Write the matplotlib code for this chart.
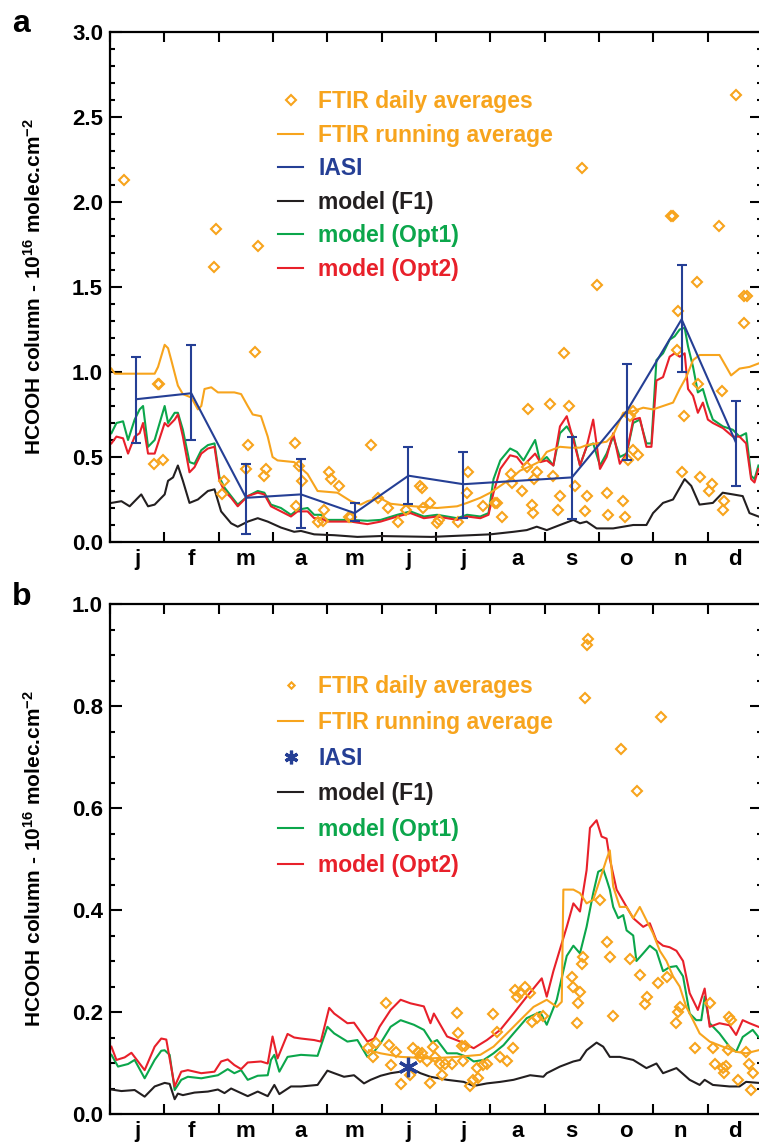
import numpy as np
import matplotlib.pyplot as plt
from matplotlib.ticker import MultipleLocator, FormatStrFormatter

plt.rcParams['font.family'] = 'Liberation Sans'
plt.rcParams['font.weight'] = 'bold'
plt.rcParams['mathtext.fontset'] = 'custom'
plt.rcParams['mathtext.rm'] = 'Liberation Sans:bold'
plt.rcParams['mathtext.bf'] = 'Liberation Sans:bold'
plt.rcParams['mathtext.default'] = 'bf'

ORANGE = '#F7A41D'
BLUE = '#253F95'
GREEN = '#0BA64B'
RED = '#E8202A'
BLACK = '#231F20'

months = ['j', 'f', 'm', 'a', 'm', 'j', 'j', 'a', 's', 'o', 'n', 'd']

# ---------------- panel a (day of year, 1e16 molec/cm2) ----------------
a_f1_day = [0.8, 6.4, 11, 17.5, 21.3, 25, 30.6, 32.5, 35.3, 38, 40.8, 44.5, 49.2, 54.8, 58.5,
            62.2, 67.8, 71.5, 77.1, 82.7, 88.3, 95.7, 103.1, 106.9, 114.3, 125.5, 138.5, 151.5,
            180, 212.9, 225.9, 233.3, 238.9, 244.5, 251.9, 259.4, 263.1, 266.8, 272.4, 281.7,
            292.9, 300.3, 304, 309.6, 315.2, 321.7, 325.4, 330, 337.5, 343, 348.7, 354.2, 358, 363]
a_f1 = [0.23, 0.24, 0.21, 0.28, 0.21, 0.22, 0.28, 0.36, 0.38, 0.45, 0.36, 0.23, 0.25, 0.30, 0.31,
        0.18, 0.11, 0.09, 0.12, 0.14, 0.12, 0.085, 0.06, 0.065, 0.045, 0.04, 0.03, 0.035,
        0.03, 0.045, 0.06, 0.07, 0.09, 0.07, 0.10, 0.13, 0.11, 0.12, 0.08, 0.08,
        0.10, 0.10, 0.17, 0.23, 0.25, 0.37, 0.33, 0.22, 0.23, 0.29, 0.28, 0.27, 0.17, 0.15]

a_opt_day = [0.8, 3.6, 7.3, 10.1, 13.8, 16.6, 18.5, 21.3, 25, 30.6, 32.5, 36.2, 38, 40.8, 44.5,
             47.3, 51.1, 54.8, 58.5, 61.3, 64.1, 67.8, 71.5, 77.1, 82.7, 86.4, 90.1, 95.7, 101.3,
             105, 110.6, 114.3, 118, 121.7, 134.8, 144.1, 151.5, 160.8, 168.2, 175.7, 183.1,
             194.3, 199.9, 207.3, 211.9, 214.7, 218.5, 224, 227.8, 231.5, 238, 240.8, 244.5,
             248.2, 251.9, 255.7, 259.4, 263.1, 266.8, 270.5, 274.3, 278, 281.7, 285.4, 289.2,
             292.9, 296.6, 300.3, 303.1, 305.9, 309.6, 313.3, 316.1, 318.9, 321.7, 323.6, 326.4,
             329.1, 331.9, 334.7, 337.5, 343.1, 348.7, 352.4, 356.1, 358.9, 360.8, 363]
a_opt1 = [0.64, 0.70, 0.71, 0.60, 0.72, 0.78, 0.80, 0.56, 0.60, 0.80, 0.70, 0.76, 0.76, 0.66, 0.47,
          0.46, 0.54, 0.57, 0.58, 0.38, 0.32, 0.27, 0.22, 0.27, 0.30, 0.29, 0.22, 0.20, 0.16,
          0.19, 0.20, 0.16, 0.16, 0.13, 0.13, 0.125, 0.13, 0.16, 0.18, 0.15, 0.16,
          0.14, 0.16, 0.15, 0.17, 0.37, 0.48, 0.55, 0.53, 0.48, 0.60, 0.47, 0.50,
          0.45, 0.64, 0.68, 0.62, 0.45, 0.56, 0.58, 0.45, 0.52, 0.62, 0.50, 0.52,
          0.70, 0.72, 0.58, 0.58, 1.07, 1.11, 1.19, 1.21, 1.25, 1.26, 1.15, 1.03,
          0.88, 0.90, 0.80, 0.72, 0.68, 0.66, 0.62, 0.64, 0.39, 0.37, 0.45]
a_opt2 = [0.58, 0.62, 0.61, 0.52, 0.62, 0.64, 0.70, 0.52, 0.52, 0.70, 0.68, 0.72, 0.75, 0.62, 0.41,
          0.44, 0.52, 0.55, 0.56, 0.36, 0.30, 0.26, 0.21, 0.27, 0.29, 0.28, 0.21, 0.18, 0.15,
          0.18, 0.18, 0.14, 0.14, 0.12, 0.12, 0.105, 0.12, 0.15, 0.17, 0.14, 0.15,
          0.13, 0.15, 0.14, 0.16, 0.29, 0.43, 0.51, 0.50, 0.45, 0.52, 0.47, 0.48,
          0.45, 0.68, 0.74, 0.60, 0.45, 0.56, 0.72, 0.43, 0.50, 0.64, 0.46, 0.52,
          0.72, 0.73, 0.56, 0.56, 0.95, 0.97, 1.09, 1.11, 1.09, 1.11, 0.90, 0.86,
          0.76, 0.82, 0.72, 0.70, 0.67, 0.62, 0.62, 0.58, 0.37, 0.35, 0.43]

a_run_day = [0.8, 2.7, 25, 26.9, 30.6, 32.5, 34.3, 38, 40.8, 45.5, 49.2, 51.1, 52.9, 56.7, 60.4,
             69.6, 73.4, 77.1, 79.9, 84.5, 88.3, 91, 93.8, 103.1, 110.6, 116.2, 127.3, 134.8,
             140.4, 144.1, 150.9, 157.1, 170.1, 183.1, 194.3, 199.9, 207.3, 212.9, 218.5, 224,
             229.6, 235.2, 240.8, 244.5, 251.9, 257.5, 263.1, 266.8, 272.4, 278, 281.7, 287.3,
             292.9, 298.5, 304, 309.6, 315.2, 318.9, 322.6, 326.4, 330.1, 341.2, 345, 347.7,
             352.4, 358, 363]
a_run = [1.02, 0.99, 0.99, 1.03, 1.16, 1.14, 1.07, 0.92, 0.87, 0.85, 0.78, 0.80, 0.90, 0.91, 0.88,
         0.88, 0.87, 0.80, 0.75, 0.74, 0.62, 0.50, 0.48, 0.47, 0.40, 0.30, 0.29, 0.24,
         0.22, 0.24, 0.26, 0.225, 0.21, 0.20, 0.21, 0.23, 0.26, 0.29, 0.33, 0.37,
         0.42, 0.445, 0.475, 0.53, 0.56, 0.555, 0.555, 0.57, 0.58, 0.59, 0.63, 0.76,
         0.77, 0.79, 0.78, 0.80, 0.82, 0.90, 0.97, 1.07, 1.10, 1.10, 1.03, 0.98,
         1.02, 1.03, 1.05]

a_ftir_day = [7.6, 59.4, 58.3, 82.9, 350.2, 264.2, 315, 313.9, 341.2, 272.6, 328.4, 356.8, 355.1,
              317.8, 355.1, 317.3, 254.2, 342.4, 329, 321.2, 234.1, 246.4, 257, 292.7, 291, 292.7,
              295.5, 289.9, 239.1, 237.4, 248, 224.6, 225.2, 230.7, 233.5, 215.7, 216.8, 209,
              219.6, 236.3, 236.9, 250.8, 251.9, 260.3, 267, 265.9, 278.2, 278.7, 287.1, 288.2,
              320, 330.1, 336.8, 335.1, 344, 342.9, 200.6, 200.1, 195, 183.3, 183.9, 179.4,
              175.5, 173.3, 174.9, 165.5, 161, 155.4, 27.6, 27.1, 24.8, 29.9, 81.2, 77.3, 76.2,
              63.9, 62.8, 87.3, 86.2, 103.5, 105.7, 107.4, 104.1, 122.5, 123.6, 119.7, 116.4,
              119.1, 128, 133.6, 134.8, 145.9, 149.8]
a_ftir = [2.13, 1.84, 1.62, 1.74, 2.63, 2.20, 1.92, 1.92, 1.86, 1.51, 1.53, 1.45, 1.45,
          1.36, 1.29, 1.13, 1.11, 0.89, 0.93, 0.74, 0.78, 0.81, 0.80, 0.77, 0.74, 0.54,
          0.51, 0.48, 0.41, 0.37, 0.39, 0.40, 0.35, 0.30, 0.44, 0.23, 0.23, 0.21,
          0.15, 0.22, 0.17, 0.19, 0.27, 0.33, 0.27, 0.18, 0.29, 0.16, 0.24, 0.15,
          0.41, 0.38, 0.34, 0.30, 0.24, 0.19, 0.41, 0.29, 0.12, 0.11, 0.13, 0.23,
          0.20, 0.33, 0.32, 0.19, 0.12, 0.20, 0.93, 0.93, 0.46, 0.48, 1.12, 0.57, 0.43,
          0.36, 0.28, 0.43, 0.39, 0.58, 0.45, 0.36, 0.21, 0.41, 0.37, 0.19, 0.12,
          0.125, 0.33, 0.15, 0.15, 0.57, 0.26]

iasi_day = [14.8, 45.5, 76.2, 106.9, 137, 167.1, 197.8, 258.6, 289.3, 320, 350.2]
iasi_val = [0.84, 0.875, 0.26, 0.28, 0.17, 0.39, 0.34, 0.38, 0.77, 1.31, 0.59]
iasi_lo = [0.58, 0.60, 0.05, 0.085, 0.125, 0.225, 0.14, 0.135, 0.48, 1.00, 0.33]
iasi_hi = [1.09, 1.16, 0.46, 0.49, 0.23, 0.56, 0.53, 0.62, 1.05, 1.63, 0.83]

# ---------------- panel b ----------------
b_f1_day = [0.8, 6.4, 13.8, 19.4, 25, 30.6, 33.4, 36.2, 38, 40.8, 47.3, 54.8, 60.4, 64.1, 67.8,
            71.5, 77.1, 82.7, 88.3, 92, 94.8, 101.3, 106.9, 116.2, 121.7, 125.5, 131, 136.6,
            142.2, 145.9, 151.5, 157.1, 162.7, 168.2, 173.8, 179.4, 188.7, 198, 203.6, 211,
            218.5, 225.9, 235.2, 242.6, 244.5, 251.9, 259.4, 263.1, 266.8, 272.4, 276.1, 279.8,
            285.4, 292.9, 300.3, 305.9, 309.6, 317.1, 324.5, 330.1, 332.9, 337.5, 346.8, 352.4,
            356.1, 363]
b_f1 = [0.048, 0.045, 0.047, 0.034, 0.054, 0.061, 0.059, 0.029, 0.040, 0.037, 0.042, 0.044, 0.048,
        0.041, 0.050, 0.044, 0.035, 0.044, 0.035, 0.057, 0.039, 0.054, 0.054, 0.057, 0.085, 0.080,
        0.073, 0.076, 0.060, 0.067, 0.075, 0.08, 0.083, 0.09, 0.08, 0.073, 0.067, 0.063, 0.055,
        0.060, 0.063, 0.067, 0.076, 0.073, 0.08, 0.093, 0.103, 0.106, 0.125, 0.14, 0.132, 0.112,
        0.112, 0.106, 0.09, 0.099, 0.08, 0.09, 0.067, 0.057, 0.067, 0.057, 0.054, 0.054,
        0.063, 0.061]

b_opt1_day = [0.8, 4.5, 10.1, 13.8, 19.4, 25, 28.7, 30.6, 33.4, 36.2, 39.9, 43.6, 51.1, 60.4,
              65.9, 69.6, 73.4, 77.1, 82.7, 88.3, 90.1, 92, 94.8, 99.4, 106.9, 116.2, 121.7,
              125.5, 132.9, 138.5, 144.1, 147.8, 151.5, 157.1, 162.7, 170.1, 175.7, 180.3, 183.1,
              188.7, 194.3, 199.9, 203.6, 209.2, 214.7, 220.3, 225.9, 233.3, 240.8, 244.5, 250.1,
              255.7, 259.4, 263.1, 266.8, 270.5, 273.3, 276.1, 278, 279.8, 281.7, 284.5, 287.3,
              289.2, 292.9, 294.7, 298.5, 302.2, 305.9, 309.6, 313.3, 317.1, 320.8, 324.5, 328.2,
              331, 332.9, 335.7, 341.2, 346.8, 350.5, 354.2, 359.8, 363]
b_opt1 = [0.116, 0.093, 0.098, 0.106, 0.070, 0.106, 0.124, 0.125, 0.116, 0.047, 0.067, 0.073,
          0.070, 0.076, 0.088, 0.080, 0.086, 0.067, 0.075, 0.076, 0.106, 0.116, 0.083, 0.112,
          0.116, 0.114, 0.171, 0.158, 0.142, 0.145, 0.112, 0.122, 0.139, 0.171, 0.184, 0.175,
          0.165, 0.14, 0.145, 0.119, 0.119, 0.112, 0.103, 0.106, 0.119, 0.135, 0.158, 0.188,
          0.20, 0.175, 0.224, 0.31, 0.33, 0.315, 0.367, 0.433, 0.475, 0.48, 0.46, 0.44, 0.406,
          0.384, 0.39, 0.36, 0.35, 0.30, 0.315, 0.33, 0.32, 0.28, 0.288, 0.29, 0.27, 0.197,
          0.184, 0.184, 0.23, 0.178, 0.158, 0.132, 0.122, 0.151, 0.165, 0.151]

b_opt2_day = [0.8, 3.6, 8.2, 12, 19.4, 25, 28.7, 31.5, 36.2, 39.9, 43.6, 51.1, 58.5, 62.2, 65.9,
              69.6, 73.4, 77.1, 84.5, 88.3, 91, 93.8, 99.4, 103.1, 106.9, 114.3, 118, 122.7,
              125.5, 132.9, 136.6, 144.1, 147.8, 150.9, 157.1, 162.7, 168.2, 175.7, 179.4, 181.3,
              188.7, 196.1, 203.6, 211, 218.5, 225.9, 233.3, 241.7, 244.5, 248.2, 255.7, 259.4,
              263.1, 266.8, 268.7, 272.4, 275.2, 278, 279.8, 283.6, 289.2, 292.9, 298.5, 302.2,
              305.9, 309.6, 313.3, 317.1, 320.8, 324.5, 329.1, 332.9, 335.7, 341.2, 346.8, 350.5,
              354.2, 358, 363]
b_opt2 = [0.132, 0.106, 0.111, 0.120, 0.086, 0.132, 0.148, 0.146, 0.054, 0.083, 0.086, 0.080,
          0.083, 0.103, 0.107, 0.096, 0.088, 0.101, 0.103, 0.099, 0.152, 0.109, 0.157, 0.150,
          0.148, 0.145, 0.142, 0.208, 0.197, 0.178, 0.179, 0.142, 0.148, 0.171, 0.204, 0.224,
          0.217, 0.211, 0.178, 0.197, 0.152, 0.142, 0.129, 0.145, 0.165, 0.197, 0.23, 0.266,
          0.23, 0.28, 0.367, 0.413, 0.397, 0.478, 0.561, 0.576, 0.544, 0.54, 0.50, 0.44,
          0.406, 0.384, 0.367, 0.374, 0.34, 0.33, 0.327, 0.32, 0.30, 0.237, 0.204, 0.246,
          0.171, 0.178, 0.174, 0.155, 0.184, 0.178, 0.171]

b_run_day = [145, 151.5, 162.7, 179.4, 194.3, 207.3, 214.7, 222.2, 229.6, 237.1, 244.5, 250.1,
             252.9, 253.8, 259.4, 263.1, 266.8, 270.5, 274.3, 278, 279.8, 281.7, 285.4, 289.2,
             292.9, 296.6, 300.3, 304, 307.8, 311.5, 315.2, 318.9, 322.6, 326.4, 330.1, 335.7,
             343.1, 350.5, 356.1, 363]
b_run = [0.125, 0.119, 0.112, 0.109, 0.112, 0.116, 0.132, 0.158, 0.184, 0.21, 0.224, 0.21,
         0.22, 0.44, 0.44, 0.433, 0.413, 0.42, 0.46, 0.50, 0.517, 0.446, 0.406, 0.406,
         0.384, 0.406, 0.38, 0.354, 0.32, 0.30, 0.27, 0.25, 0.21, 0.184, 0.158, 0.142,
         0.132, 0.122, 0.119, 0.125]

b_ftir_day = [144.3, 147, 148.7, 154.3, 156, 159.9, 157.1, 162.7, 168.2, 169.9, 172.2, 174.9,
              173.8, 177.7, 179.4, 181.1, 182.2, 185, 186.1, 187.8, 191.7, 194.5, 195, 197.3,
              198.9, 197.8, 201.7, 203.4, 206.2, 205.6, 209, 211.2, 214.6, 216.8, 218.5, 222.4,
              225.7, 226.8, 228, 229.6, 232.4, 235.2, 236.3, 239.1, 242.5, 258.7, 259.2, 263.1,
              262, 261.4, 264.2, 264.8, 274.3, 278.2, 279.8, 281.5, 291, 296.6, 300.5, 299.4,
              306.7, 311.7, 317.9, 319, 316.7, 335.7, 327.3, 337.4, 338.5, 342.9, 345.1, 344,
              346.8, 347.9, 345.7, 351.3, 356.3, 358, 359.7, 359.1, 267.6, 267, 265.9, 308.3,
              286, 294.9]
b_ftir = [0.129, 0.112, 0.14, 0.218, 0.135, 0.122, 0.096, 0.059, 0.076, 0.129, 0.122, 0.119,
          0.112, 0.103, 0.061, 0.131, 0.112, 0.099, 0.076, 0.099, 0.099, 0.199, 0.158, 0.133,
          0.133, 0.103, 0.054, 0.067, 0.07, 0.09, 0.096, 0.099, 0.196, 0.161, 0.112, 0.103,
          0.129, 0.243, 0.23, 0.238, 0.25, 0.238, 0.181, 0.188, 0.192, 0.269, 0.25, 0.24,
          0.217, 0.178, 0.295, 0.308, 0.42, 0.338, 0.308, 0.193, 0.303, 0.273, 0.23, 0.215,
          0.256, 0.269, 0.2, 0.21, 0.178, 0.218, 0.129, 0.129, 0.099, 0.09, 0.095, 0.08,
          0.191, 0.185, 0.125, 0.067, 0.122, 0.099, 0.08, 0.047, 0.931, 0.92, 0.816, 0.778,
          0.716, 0.633]

b_iasi_day = [167.1]
b_iasi = [0.093]

labels = ['FTIR daily averages', 'FTIR running average', 'IASI', 'model (F1)',
          'model (Opt1)', 'model (Opt2)']
label_colors = [ORANGE, ORANGE, BLUE, BLACK, GREEN, RED]


def style_axes(ax, ymax, major, minor):
    edges = np.arange(13) * 365 / 12.0
    ax.set_xlim(0, 365)
    ax.set_ylim(0, ymax)
    ax.set_xticks(edges)
    ax.set_xticklabels([])
    ax.set_xticks(edges[:-1] + 365 / 24.0, minor=True)
    ax.set_xticklabels(months, minor=True, fontsize=16, fontweight='bold')
    ax.yaxis.set_major_locator(MultipleLocator(major))
    ax.yaxis.set_minor_locator(MultipleLocator(minor))
    ax.yaxis.set_major_formatter(FormatStrFormatter('%.1f'))
    ax.tick_params(axis='both', which='both', direction='in', top=True, right=True,
                   width=1.5, labelsize=16)
    ax.tick_params(axis='x', which='major', length=7)
    ax.tick_params(axis='x', which='minor', length=0, pad=5)
    ax.tick_params(axis='y', which='major', length=8.5, pad=5)
    ax.tick_params(axis='y', which='minor', length=3.8)
    for s in ax.spines.values():
        s.set_linewidth(1.6)
    ax.set_ylabel(r'HCOOH column - 10$^{16}$ molec.cm$^{-2}$', fontsize=15, fontweight='bold')
    ax.yaxis.set_label_coords(-0.1, 0.5)


fig = plt.figure(figsize=(7.59, 11.44), dpi=100)
ax1 = fig.add_axes([110 / 759, 602 / 1144, 652 / 759, 510 / 1144])
ax2 = fig.add_axes([110 / 759, 30 / 1144, 652 / 759, 510 / 1144])

# panel a
l_f1, = ax1.plot(a_f1_day, a_f1, color=BLACK, lw=1.5)
l_o1, = ax1.plot(a_opt_day, a_opt1, color=GREEN, lw=1.5)
l_o2, = ax1.plot(a_opt_day, a_opt2, color=RED, lw=1.5)
l_run, = ax1.plot(a_run_day, a_run, color=ORANGE, lw=1.5)
l_pts, = ax1.plot(a_ftir_day, a_ftir, ls='none', marker='D', ms=4.6, mfc='none',
                  mec=ORANGE, mew=1.5)
err = [np.array(iasi_val) - np.array(iasi_lo), np.array(iasi_hi) - np.array(iasi_val)]
eb = ax1.errorbar(iasi_day, iasi_val, yerr=err, color=BLUE, lw=1.5, elinewidth=1.5,
                  capsize=3.5, capthick=1.5)
style_axes(ax1, 3.0, 0.5, 0.1)
ax1.legend([l_pts, l_run, eb.lines[0], l_f1, l_o1, l_o2], labels,
           labelcolor=label_colors, loc='upper left', bbox_to_anchor=(0.258, 0.886),
           frameon=False, prop={'size': 16.5, 'weight': 'bold'}, handlelength=1.1,
           handletextpad=0.65, labelspacing=0.46, borderpad=0, borderaxespad=0, numpoints=1)

# panel b
m_f1, = ax2.plot(b_f1_day, b_f1, color=BLACK, lw=1.5)
m_o1, = ax2.plot(b_opt1_day, b_opt1, color=GREEN, lw=1.5)
m_o2, = ax2.plot(b_opt2_day, b_opt2, color=RED, lw=1.5)
m_run, = ax2.plot(b_run_day, b_run, color=ORANGE, lw=1.5)
m_pts, = ax2.plot(b_ftir_day, b_ftir, ls='none', marker='D', ms=4.6, mfc='none',
                  mec=ORANGE, mew=1.5)
m_iasi, = ax2.plot(b_iasi_day, b_iasi, ls='none', marker=(6, 2, 0), ms=14, mew=2.3,
                   color=BLUE)
style_axes(ax2, 1.0, 0.2, 0.05)
ax2.legend([m_pts, m_run, m_iasi, m_f1, m_o1, m_o2], labels,
           labelcolor=label_colors, loc='upper left', bbox_to_anchor=(0.258, 0.861),
           frameon=False, prop={'size': 16.5, 'weight': 'bold'}, handlelength=1.1,
           handletextpad=0.65, labelspacing=0.56, borderpad=0, borderaxespad=0, numpoints=1,
           markerscale=0.7)

fig.text(12 / 759, 1 - 32 / 1144, 'a', fontsize=23, fontweight='bold', va='baseline')
fig.text(12 / 759, 1 - 605 / 1144, 'b', fontsize=23, fontweight='bold', va='baseline')

fig.savefig('out.png', dpi=100)
